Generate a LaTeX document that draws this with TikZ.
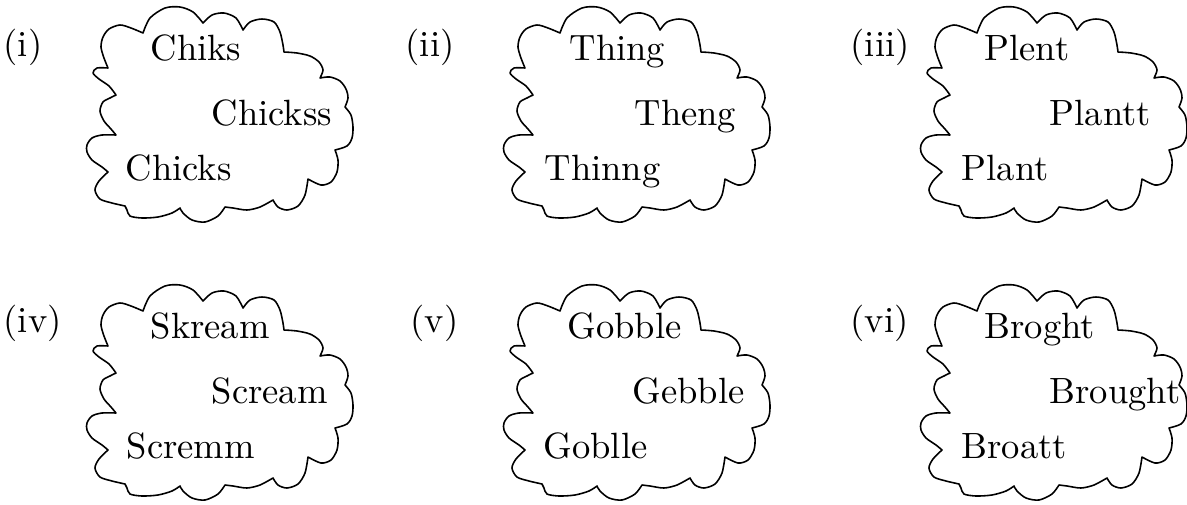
\documentclass[tikz,border=0pt]{standalone}
\tikzset{
  cloudline/.style={line width=0.45pt, line join=round},
  word/.style={anchor=base west, inner sep=0pt, font=\fontsize{10.4}{12}\selectfont},
  tag/.style={anchor=west, inner sep=0pt, font=\fontsize{10.4}{12}\selectfont},
  wordcloud/.pic={
    \draw[cloudline]
      plot[smooth] coordinates {(108,68) (104,58) (101,47) (103,37) (109,29) (120,25) (131,28) (143,33)}
      -- plot[smooth] coordinates {(143,33) (150,18) (165,8) (180,7) (193,12) (203,23)}
      -- plot[smooth] coordinates {(203,23) (212,15) (224,13) (236,18) (243,30)}
      -- plot[smooth] coordinates {(243,30) (250,22) (262,19) (274,22) (280,32) (283,45) (284,52)}
      -- plot[smooth] coordinates {(284,52) (297,53) (310,56) (319,62) (323,70) (320,78)}
      -- plot[smooth] coordinates {(320,78) (330,77) (340,81) (346,89) (348,98) (345,107)}
      -- plot[smooth] coordinates {(345,107) (351,115) (353,127) (352,138) (347,146) (335,150)}
      -- plot[smooth] coordinates {(335,150) (338,160) (337,172) (331,182) (321,185) (308,179)}
      -- plot[smooth] coordinates {(308,179) (305,195) (298,206) (287,210) (278,207) (273,200)}
      -- plot[smooth] coordinates {(273,200) (260,207) (247,210) (233,208) (225,207)}
      -- plot[smooth] coordinates {(225,207) (218,216) (205,222) (192,220) (183,213) (180,208)}
      -- plot[smooth] coordinates {(180,208) (172,213) (158,217) (142,218) (130,216) (127,210) (125,206)}
      -- plot[smooth] coordinates {(125,206) (112,203) (100,199) (95,190) (99,181) (108,172)}
      -- plot[smooth] coordinates {(108,172) (102,167) (92,160) (87,152) (87,145) (92,138) (102,135) (116,135)}
      -- plot[smooth] coordinates {(116,135) (111,129) (104,121) (100,111) (103,102) (110,98) (116,95)}
      -- plot[smooth] coordinates {(116,95) (109,86) (99,79) (93,73) (97,68) (108,68)}
      -- cycle;
  }
}
\begin{document}
\begin{tikzpicture}[x=0.1mm, y=-0.1mm]
\useasboundingbox (0,0) rectangle (1187,504);

% top row
\pic at (0,0) {wordcloud};
\node[tag] (tag1) at (3,47) {(i)};
\node[word] (w1a) at (150,60) {Chiks};
\node[word] (w1b) at (211,125) {Chickss};
\node[word] (w1c) at (125,180) {Chicks};

\pic at (417,0) {wordcloud};
\node[tag] (tag2) at (405,47) {(ii)};
\node[word] (w2a) at (569,60) {Thing};
\node[word] (w2b) at (634,125) {Theng};
\node[word] (w2c) at (544,180) {Thinng};

\pic at (834,0) {wordcloud};
\node[tag] (tag3) at (850,47) {(iii)};
\node[word] (w3a) at (984,60) {Plent};
\node[word] (w3b) at (1049,125) {Plantt};
\node[word] (w3c) at (961,180) {Plant};

% bottom row
\pic at (0,278) {wordcloud};
\node[tag] (tag4) at (3,323) {(iv)};
\node[word] (w4a) at (150,338) {Skream};
\node[word] (w4b) at (211,403) {Scream};
\node[word] (w4c) at (126,458) {Scremm};

\pic at (417,278) {wordcloud};
\node[tag] (tag5) at (410,323) {(v)};
\node[word] (w5a) at (567,338) {Gobble};
\node[word] (w5b) at (632,403) {Gebble};
\node[word] (w5c) at (543,458) {Goblle};

\pic at (834,278) {wordcloud};
\node[tag] (tag6) at (850,323) {(vi)};
\node[word] (w6a) at (984,338) {Broght};
\node[word] (w6b) at (1049,403) {Brought};
\node[word] (w6c) at (961,458) {Broatt};
\end{tikzpicture}
\end{document}
